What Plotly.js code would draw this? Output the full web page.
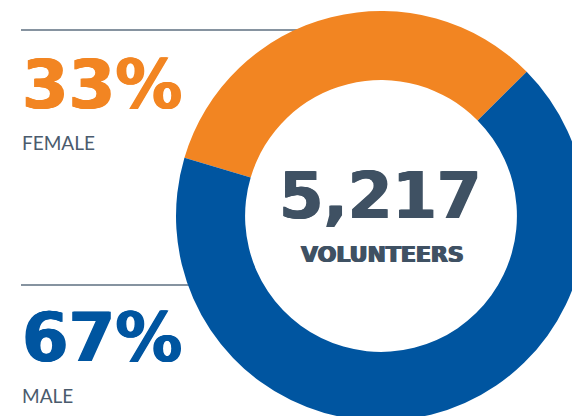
<!DOCTYPE html>
<html>
<head>
<meta charset="utf-8">
<script src="https://cdn.plot.ly/plotly-3.0.1.min.js"></script>
<style>
html,body{margin:0;padding:0;overflow:hidden;background:#fff;}
#chart{width:600px;height:440px;}
</style>
</head>
<body>
<div id="chart"></div>
<script>
// ---- data ----
const labels = ['FEMALE', 'MALE'];
const values = [33, 67];
const sliceColors = ['#F28522', '#0055A0'];
const totalVolunteers = 5217;
const centerLabel = 'VOLUNTEERS';

// ---- layout helpers (paper is 600x440 px) ----
const W = 600, H = 440;
const px = v => v / W;
const py = v => 1 - v / H;

const sum = values.reduce((a, b) => a + b, 0);
const pct = values.map(v => Math.round(v / sum * 100) + '%');

const heavy = '"DejaVu Sans", sans-serif';
const slate = '#3F5163';
const thick = c => '0.8px 0 0 ' + c + ', -0.8px 0 0 ' + c;

const trace = {
  type: 'pie',
  labels: labels,
  values: values,
  sort: false,
  direction: 'clockwise',
  rotation: -73.5,
  hole: 0.663,
  textinfo: 'none',
  hoverinfo: 'none',
  showlegend: false,
  marker: {colors: sliceColors, line: {width: 0}},
  domain: {x: [px(176), px(586)], y: [(H - 421) / H, (H - 11) / H]}
};

const annotations = [
  {text: pct[0], x: px(20), y: py(85), xanchor: 'left', yanchor: 'middle',
   font: {family: heavy, size: 67, color: sliceColors[0], weight: 700, shadow: thick(sliceColors[0])}},
  {text: labels[0], x: px(20), y: py(143), xanchor: 'left', yanchor: 'middle',
   font: {family: 'Lato, sans-serif', size: 19, color: '#4A5B6D', weight: 400}},
  {text: pct[1], x: px(20), y: py(338), xanchor: 'left', yanchor: 'middle',
   font: {family: heavy, size: 67, color: sliceColors[1], weight: 700, shadow: thick(sliceColors[1])}},
  {text: labels[1], x: px(20), y: py(395), xanchor: 'left', yanchor: 'middle',
   font: {family: 'Lato, sans-serif', size: 19, color: '#4A5B6D', weight: 400}},
  {text: totalVolunteers.toLocaleString('en-US'), x: px(380), y: py(196), xanchor: 'center', yanchor: 'middle',
   font: {family: heavy, size: 64, color: slate, weight: 700, shadow: thick(slate)}},
  {text: centerLabel, x: px(382), y: py(254), xanchor: 'center', yanchor: 'middle',
   font: {family: heavy, size: 22, color: slate, weight: 700, shadow: thick(slate)}}
].map(a => Object.assign({xref: 'paper', yref: 'paper', showarrow: false}, a));

const shapes = [
  {type: 'line', xref: 'paper', yref: 'paper', layer: 'below',
   x0: px(21), x1: px(320), y0: py(30), y1: py(30), line: {color: '#5E6F80', width: 1.5}},
  {type: 'line', xref: 'paper', yref: 'paper', layer: 'below',
   x0: px(21), x1: px(240), y0: py(285), y1: py(285), line: {color: '#5E6F80', width: 1.5}}
];

const layout = {
  width: W, height: H,
  margin: {l: 0, r: 0, t: 0, b: 0},
  paper_bgcolor: '#ffffff',
  plot_bgcolor: '#ffffff',
  annotations: annotations,
  shapes: shapes
};

Plotly.newPlot('chart', [trace], layout, {displayModeBar: false, staticPlot: true});
</script>
</body>
</html>
